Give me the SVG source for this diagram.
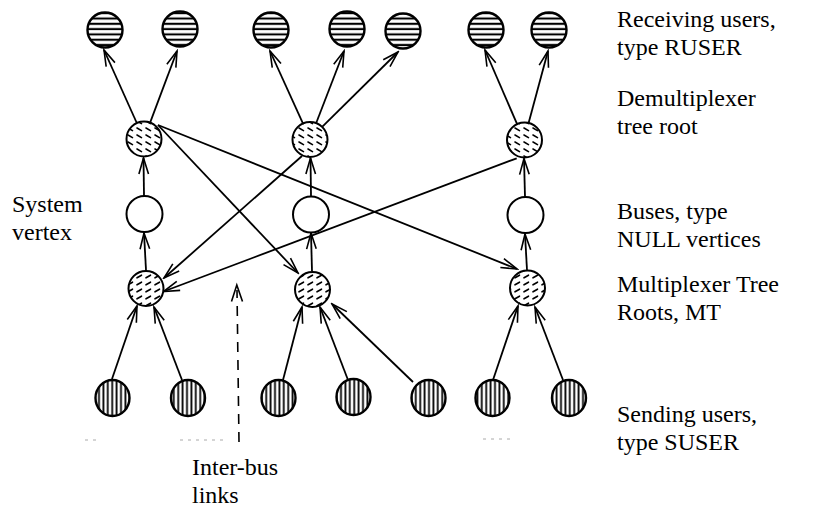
<svg xmlns="http://www.w3.org/2000/svg" width="828" height="509" viewBox="0 0 828 509">
  <defs>
    <!-- fill for receiving users: horizontal bars -->
    <pattern id="hbars" patternUnits="userSpaceOnUse" width="10" height="5.3">
      <rect width="10" height="5.3" fill="#fff"/>
      <path d="M0,2.6 H10" stroke="#000" stroke-width="2.1"/>
    </pattern>
    <!-- fill for sending users: vertical bars -->
    <pattern id="vbars" patternUnits="userSpaceOnUse" width="4.4" height="10">
      <rect width="4.4" height="10" fill="#fff"/>
      <path d="M2.2,0 V10" stroke="#000" stroke-width="1.8"/>
    </pattern>
    <!-- fill for demultiplexer roots: falling dashes -->
    <pattern id="dashDown" patternUnits="userSpaceOnUse" width="9" height="7">
      <rect width="9" height="7" fill="#fff"/>
      <path d="M2,2 L6.5,4.6" stroke="#000" stroke-width="1.6" stroke-linecap="round"/>
    </pattern>
    <!-- fill for multiplexer roots: rising dashes -->
    <pattern id="dashUp" patternUnits="userSpaceOnUse" width="9" height="7">
      <rect width="9" height="7" fill="#fff"/>
      <path d="M2,4.8 L6.5,2.2" stroke="#000" stroke-width="1.6" stroke-linecap="round"/>
    </pattern>
    <marker id="arr" viewBox="-18 -7 20 14" markerUnits="userSpaceOnUse" markerWidth="20" markerHeight="14" refX="0" refY="0" orient="auto">
      <path d="M-16,-4.8 L0,0 L-16,4.8" fill="none" stroke="#000" stroke-width="1.6"/>
    </marker>
    <style>
      .edge { stroke: #000; stroke-width: 1.8; fill: none; marker-end: url(#arr); }
      .dash { stroke: #000; stroke-width: 1.6; fill: none; stroke-dasharray: 10 8; }
      .ruser { fill: url(#hbars); stroke: #000; stroke-width: 2.4; }
      .suser { fill: url(#vbars); stroke: #000; stroke-width: 2.4; }
      .demux { fill: url(#dashDown); stroke: #000; stroke-width: 2; }
      .mux { fill: url(#dashUp); stroke: #000; stroke-width: 2; }
      .bus { fill: #fff; stroke: #000; stroke-width: 2; }
      .lbl { font-family: "Liberation Serif", "Times New Roman", serif; font-size: 24px; fill: #000; }
      .speck { stroke: #aaa; stroke-width: 1; stroke-dasharray: 3 5; }
    </style>
  </defs>

  <rect width="828" height="509" fill="#fff"/>

  <g id="connectors">
    <!-- demultiplexer roots to receiving users -->
    <line class="edge" x1="136.8" y1="123" x2="104" y2="50"/>
    <line class="edge" x1="150.1" y1="122.6" x2="177" y2="51"/>
    <line class="edge" x1="302.8" y1="123.1" x2="270" y2="51"/>
    <line class="edge" x1="316.3" y1="122.7" x2="344" y2="51"/>
    <line class="edge" x1="322.4" y1="126.7" x2="398" y2="52"/>
    <line class="edge" x1="517" y1="123.9" x2="485" y2="50"/>
    <line class="edge" x1="528.6" y1="123.1" x2="548" y2="51"/>
    <!-- buses to demultiplexer roots -->
    <line class="edge" x1="144" y1="196" x2="143.5" y2="158"/>
    <line class="edge" x1="311" y1="196" x2="310.5" y2="158"/>
    <line class="edge" x1="525" y1="197" x2="524" y2="158.5"/>
    <!-- multiplexer roots to buses -->
    <line class="edge" x1="146" y1="270" x2="144" y2="233"/>
    <line class="edge" x1="312" y1="271" x2="311" y2="233"/>
    <line class="edge" x1="527" y1="270" x2="525" y2="234"/>
    <!-- sending users to multiplexer roots -->
    <line class="edge" x1="112" y1="379" x2="137" y2="306"/>
    <line class="edge" x1="182" y1="380" x2="154" y2="307"/>
    <line class="edge" x1="283" y1="380" x2="302" y2="307"/>
    <line class="edge" x1="348" y1="380" x2="320" y2="307"/>
    <line class="edge" x1="413" y1="382" x2="332" y2="304"/>
    <line class="edge" x1="493" y1="380" x2="518" y2="306"/>
    <line class="edge" x1="563" y1="380" x2="535" y2="307"/>
    <!-- inter-bus links -->
    <line class="edge" x1="158" y1="125" x2="298" y2="273"/>
    <line class="edge" x1="158" y1="125" x2="517" y2="269"/>
    <line class="edge" x1="302" y1="156" x2="164" y2="278"/>
    <line class="edge" x1="516.7" y1="158.3" x2="163.5" y2="291.5"/>
    <!-- pointer to the inter-bus links -->
    <line class="dash" x1="239" y1="442" x2="237" y2="290"/>
    <path d="M231.5,301.5 L236.8,285 L242.5,301.5" fill="none" stroke="#000" stroke-width="1.6"/>
  </g>

  <!-- receiving users, type RUSER -->
  <g id="ruser1"><circle class="ruser" cx="105" cy="30" r="17.5"/></g>
  <g id="ruser2"><circle class="ruser" cx="180" cy="29" r="17.5"/></g>
  <g id="ruser3"><circle class="ruser" cx="271" cy="30" r="17.5"/></g>
  <g id="ruser4"><circle class="ruser" cx="347" cy="29" r="17.5"/></g>
  <g id="ruser5"><circle class="ruser" cx="403" cy="31" r="17.5"/></g>
  <g id="ruser6"><circle class="ruser" cx="486" cy="30" r="17.5"/></g>
  <g id="ruser7"><circle class="ruser" cx="549" cy="30" r="17.5"/></g>

  <!-- demultiplexer tree roots -->
  <g id="demux1"><circle class="demux" cx="144" cy="139" r="17.5"/></g>
  <g id="demux2"><circle class="demux" cx="310" cy="139.5" r="17.5"/></g>
  <g id="demux3"><circle class="demux" cx="524.5" cy="140" r="17.5"/></g>

  <!-- buses, NULL vertices -->
  <g id="bus1"><circle class="bus" cx="144.5" cy="214" r="18"/></g>
  <g id="bus2"><circle class="bus" cx="311" cy="214.5" r="18"/></g>
  <g id="bus3"><circle class="bus" cx="525.5" cy="215" r="18"/></g>

  <!-- multiplexer tree roots -->
  <g id="mux1"><circle class="mux" cx="146" cy="288.5" r="17.5"/></g>
  <g id="mux2"><circle class="mux" cx="312.5" cy="289.5" r="17.5"/></g>
  <g id="mux3"><circle class="mux" cx="527.5" cy="288" r="17.5"/></g>

  <!-- sending users, type SUSER -->
  <g id="suser1"><ellipse class="suser" cx="112.5" cy="398" rx="17" ry="18"/></g>
  <g id="suser2"><ellipse class="suser" cx="188" cy="398" rx="17" ry="18"/></g>
  <g id="suser3"><ellipse class="suser" cx="278.5" cy="398" rx="17" ry="18"/></g>
  <g id="suser4"><ellipse class="suser" cx="353.5" cy="397" rx="17" ry="18"/></g>
  <g id="suser5"><ellipse class="suser" cx="428.5" cy="398" rx="17" ry="18"/></g>
  <g id="suser6"><ellipse class="suser" cx="492.5" cy="398" rx="17" ry="18"/></g>
  <g id="suser7"><ellipse class="suser" cx="569" cy="398" rx="17" ry="18"/></g>

  <!-- faint specks along the baseline -->
  <g id="specks">
    <line class="speck" x1="85" y1="440" x2="101" y2="440"/>
    <line class="speck" x1="180" y1="440" x2="228" y2="440"/>
    <line class="speck" x1="483" y1="439" x2="510" y2="439"/>
  </g>

  <!-- labels -->
  <g id="labels">
    <text class="lbl" x="617" y="27">Receiving users,</text>
    <text class="lbl" x="617" y="55">type RUSER</text>
    <text class="lbl" x="617" y="106">Demultiplexer</text>
    <text class="lbl" x="617" y="134">tree root</text>
    <text class="lbl" x="617" y="219">Buses, type</text>
    <text class="lbl" x="617" y="247">NULL vertices</text>
    <text class="lbl" x="617" y="292">Multiplexer Tree</text>
    <text class="lbl" x="617" y="320">Roots, MT</text>
    <text class="lbl" x="617" y="422">Sending users,</text>
    <text class="lbl" x="617" y="450">type SUSER</text>
    <text class="lbl" x="12" y="212">System</text>
    <text class="lbl" x="12" y="240">vertex</text>
    <text class="lbl" x="192" y="475">Inter-bus</text>
    <text class="lbl" x="192" y="503">links</text>
  </g>
</svg>
